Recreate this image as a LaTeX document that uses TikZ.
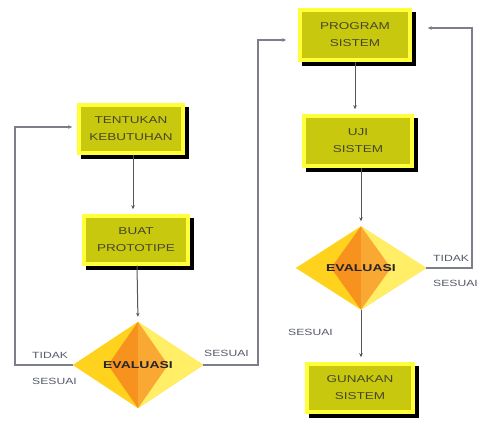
\documentclass[tikz,border=0pt]{standalone}
\usepackage{fontspec}
\setmainfont{Liberation Sans}
\newfontfamily\bxfont[FakeStretch=1.35]{Liberation Sans}
\newfontfamily\evfont[FakeStretch=1.4]{Liberation Sans}
\usetikzlibrary{shapes.geometric,arrows.meta,backgrounds}

\definecolor{boxin}{HTML}{C8C80E}
\definecolor{boxrim}{HTML}{FFFF3A}
\definecolor{boxtext}{HTML}{46462A}
\definecolor{lbltext}{HTML}{55596A}
\definecolor{looplin}{HTML}{7C7E88}
\definecolor{arrlin}{HTML}{55575E}
\definecolor{dgold}{HTML}{FFD21E}
\definecolor{dlight}{HTML}{FFEE66}
\definecolor{dorange}{HTML}{F7921E}
\definecolor{dorangelt}{HTML}{F9A834}

\tikzset{
  stepbox/.style={rectangle, minimum width=104pt, minimum height=48pt,
    fill=boxin, draw=boxrim, line width=3.5pt, align=center, text=boxtext,
    font=\bxfont\fontsize{10}{17}\selectfont},
  decision/.style={diamond, inner sep=0pt, text=black!85,
    font=\evfont\bfseries\fontsize{10}{12}\selectfont},
  flow/.style={draw=arrlin, line width=1pt, shorten >=5pt,
    -{Stealth[length=4pt,width=3.5pt]}},
  loop/.style={draw=looplin, line width=1.2pt,
    -{Stealth[length=4pt,width=3.5pt]}},
  lbl/.style={text=lbltext, font=\bxfont\fontsize{9}{10}\selectfont, inner sep=0pt}
}

\begin{document}
\begin{tikzpicture}[x=1pt,y=-1pt]
  \useasboundingbox (0,0) rectangle (483,422);

  % left column
  \node[stepbox] (tk) at (131,129) {TENTUKAN\\KEBUTUHAN};
  \node[stepbox] (bp) at (136,240) {BUAT\\PROTOTIPE};
  \node[decision, minimum width=130pt, minimum height=86pt] (ev1) at (138,365) {EVALUASI};

  % right column
  \node[stepbox, minimum width=110pt, minimum height=50pt] (ps) at (355,35) {PROGRAM\\SISTEM};
  \node[stepbox, minimum width=108pt, minimum height=50pt] (us) at (358,141) {UJI\\SISTEM};
  \node[decision, minimum width=130pt, minimum height=83pt] (ev2) at (361,268) {EVALUASI};
  \node[stepbox, minimum width=106pt] (gs) at (360,388) {GUNAKAN\\SISTEM};

  \begin{scope}[on background layer]
    % black drop shadows of the step boxes
    \foreach \b in {tk, bp, ps, us, gs}{
      \fill[black] ([shift={(4pt,-4pt)}]\b.south west) rectangle ([shift={(4pt,-4pt)}]\b.north east);
    }
    % diamond faces
    \foreach \d/\hw in {ev1/30, ev2/30}{
      \fill[dgold] (\d.north) -- (\d.west) -- (\d.south) -- (\d.east) -- cycle;
      \fill[dlight] (\d.north) -- (\d.east) -- (\d.south) -- cycle;
      \fill[dorange] (\d.north) -- ([xshift=-\hw pt]\d.center) -- (\d.south) -- cycle;
      \fill[dorangelt] (\d.north) -- ([xshift=\hw pt]\d.center) -- (\d.south) -- cycle;
    }
  \end{scope}

  % main flow
  \draw[flow] (tk.south -| 133,0) -- (bp.north -| 133,0);
  \draw[flow] (bp.south -| 137,0) -- (ev1.north);
  \draw[flow] (ps.south -| 355,0) -- (us.north -| 355,0);
  \draw[flow] (us.south -| 361,0) -- (ev2.north);
  \draw[flow] (ev2.south) -- (gs.north -| ev2.south);

  % feedback and forward loops
  \coordinate (l1) at (15,365);
  \coordinate (l2) at (15,127);
  \draw[loop, shorten >=5pt] (ev1.west) -- (l1) -- (l2) -- (tk.west |- l2);
  \coordinate (r1) at (258,365);
  \coordinate (r2) at (258,40);
  \draw[loop, shorten >=12pt] (ev1.east) -- (r1) -- (r2) -- (ps.west |- r2);
  \coordinate (t1) at (472,268);
  \coordinate (t2) at (472,28);
  \draw[loop, shorten >=16pt] (ev2.east) -- (t1) -- (t2) -- (ps.east |- t2);

  % branch labels
  \node[lbl, anchor=west] (lt1) at (32,355) {TIDAK};
  \node[lbl, anchor=west] (ls1) at (32,381) {SESUAI};
  \node[lbl, anchor=west] (ls2) at (204,353) {SESUAI};
  \node[lbl, anchor=west] (lt2) at (433,258) {TIDAK};
  \node[lbl, anchor=west] (ls3) at (433,283) {SESUAI};
  \node[lbl, anchor=west] (ls4) at (288,332) {SESUAI};
\end{tikzpicture}
\end{document}
